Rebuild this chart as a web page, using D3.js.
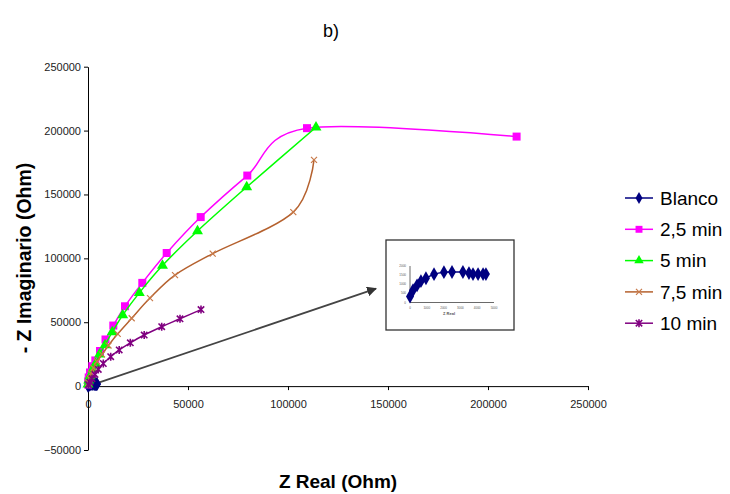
<!DOCTYPE html>
<html>
<head>
<meta charset="utf-8">
<script src="https://cdn.jsdelivr.net/npm/d3@7"></script>
<style>
  body { margin: 0; background: #fff; }
  svg { font-family: "Liberation Sans", Arial, sans-serif; }
</style>
</head>
<body>
<svg width="730" height="494"></svg>
<script>
// series data, [Z real, -Z imag] in Ohm
const blanco = [[0, 330], [180, 670], [420, 940], [650, 1170], [950, 1330], [1430, 1550], [2020, 1660],
  [2500, 1670], [3150, 1670], [3510, 1610], [3750, 1560], [4050, 1560], [4350, 1560], [4520, 1560]];
const min25 = [[0, 1300], [100, 3700], [350, 6800], [1000, 10700], [2150, 15600], [3650, 20100], [6000, 27500],
  [8750, 36500], [12650, 47400], [18500, 62500], [27150, 80800], [39350, 104200], [56350, 132300],
  [79650, 164800], [109500, 201900], [214300, 195300]];
const min5 = [[0, 1300], [350, 4450], [1000, 7800], [2350, 13050], [3750, 17500], [5750, 24800], [8500, 32200],
  [12100, 42200], [17350, 55600], [25650, 73000], [37250, 94400], [54750, 121400], [79350, 155800],
  [114000, 202600]];
const min75 = [[150, 2500], [750, 6000], [1500, 9900], [2750, 14200], [4500, 19300], [7000, 24800], [10250, 31800],
  [14850, 40900], [21850, 53100], [31000, 68900], [43500, 86900], [62350, 103700], [102650, 136200],
  [113000, 177100]];
const min10 = [[250, 1170], [1000, 3100], [2000, 5800], [3500, 9100], [5150, 13050], [7650, 17700], [11350, 23000],
  [15600, 28300], [21150, 33900], [28100, 40000], [36850, 46500], [46000, 52700], [56500, 59900]];

const seriesNames = ["Blanco", "2,5 min", "5 min", "7,5 min", "10 min"];
const seriesData = [blanco, min25, min5, min75, min10];
const lineColors = ["#000080", "#ff00ff", "#00ff00", "#b5612e", "#800080"];
const markColors = ["#000080", "#ff00ff", "#00ff00", "#c87a4a", "#800080"];
const markTypes = ["diamond", "square", "triangle", "x", "star"];

const xTicks = [0, 50000, 100000, 150000, 200000, 250000];
const yTicks = [-50000, 0, 50000, 100000, 150000, 200000, 250000];

// inset (zoom on Blanco)
const insetXTicks = [0, 1000, 2000, 3000, 4000, 5000];
const insetYTicks = [0, 500, 1000, 1500, 2000];

// arrow annotation, data units: from Blanco to inset
const arrowFrom = [2000, 900];
const arrowTo = [144000, 76300];

const svg = d3.select("svg");

const x = d3.scaleLinear().domain([0, 250000]).range([88, 588]);
const y = d3.scaleLinear().domain([-50000, 250000]).range([450, 66.7]);

// title
svg.append("text")
  .attr("x", 331).attr("y", 37)
  .attr("text-anchor", "middle")
  .style("font-size", "18px")
  .text("b)");

// axes
const xAxis = svg.append("g")
  .attr("transform", `translate(0, ${y(0)})`)
  .call(d3.axisBottom(x).tickValues(xTicks).tickSize(4).tickSizeOuter(0).tickFormat(d3.format("d")));
xAxis.select(".domain").attr("stroke", "#000");
xAxis.selectAll("text").attr("y", 14).style("font-size", "11px").attr("fill", "#222")
  .style("font-family", "Liberation Sans, Arial");

const yAxis = svg.append("g")
  .attr("transform", `translate(${x(0)}, 0)`)
  .call(d3.axisLeft(y).tickValues(yTicks).tickSize(4).tickSizeOuter(0).tickFormat(d3.format("d")));
yAxis.select(".domain").attr("stroke", "#000");
yAxis.selectAll("text").attr("x", -7).style("font-size", "11px").attr("fill", "#222")
  .style("font-family", "Liberation Sans, Arial");

// axis titles
svg.append("text")
  .attr("x", 338).attr("y", 488)
  .attr("text-anchor", "middle")
  .style("font-size", "19px").style("font-weight", "bold")
  .text("Z Real (Ohm)");

svg.append("text")
  .attr("transform", "translate(31, 258) rotate(-90)")
  .attr("text-anchor", "middle")
  .style("font-size", "19.5px").style("font-weight", "bold")
  .text("- Z Imaginario (Ohm)");

// arrow
svg.append("defs").append("marker")
  .attr("id", "arrowhead")
  .attr("viewBox", "0 0 10 10")
  .attr("refX", 9).attr("refY", 5)
  .attr("markerWidth", 5.5).attr("markerHeight", 5.5)
  .attr("orient", "auto")
  .append("path")
  .attr("d", "M0,0 L10,5 L0,10 z")
  .attr("fill", "#333");

svg.append("line")
  .attr("x1", x(arrowFrom[0])).attr("y1", y(arrowFrom[1]))
  .attr("x2", x(arrowTo[0])).attr("y2", y(arrowTo[1]))
  .attr("stroke", "#444").attr("stroke-width", 1.8)
  .attr("marker-end", "url(#arrowhead)");

function drawMarker(g, type, color, s) {
  if (type === "diamond") {
    g.append("path").attr("d", d3.symbol(d3.symbolDiamond, s * 7)()).attr("fill", color);
  } else if (type === "square") {
    g.append("path").attr("d", d3.symbol(d3.symbolSquare, s * 8)()).attr("fill", color);
  } else if (type === "triangle") {
    g.append("path").attr("d", d3.symbol(d3.symbolTriangle, s * 6.5)()).attr("fill", color);
  } else if (type === "x") {
    const r = 3;
    g.append("path").attr("d", `M${-r},${-r}L${r},${r}M${-r},${r}L${r},${-r}`)
      .attr("stroke", color).attr("stroke-width", 1.2).attr("fill", "none");
  } else {
    const r = 3.2;
    g.append("path").attr("d", `M${-r},${-r}L${r},${r}M${-r},${r}L${r},${-r}M0,${-r - 0.8}L0,${r + 0.8}`)
      .attr("stroke", color).attr("stroke-width", 1.6).attr("fill", "none");
  }
}

const line = d3.line()
  .x(d => x(d[0]))
  .y(d => y(d[1]))
  .curve(d3.curveCatmullRom.alpha(0));

seriesData.forEach((data, i) => {
  const g = svg.append("g");
  g.append("path")
    .datum(data)
    .attr("d", line)
    .attr("fill", "none")
    .attr("stroke", lineColors[i])
    .attr("stroke-width", 1.5);
  g.selectAll("g.pt").data(data).enter().append("g")
    .attr("class", "pt")
    .attr("transform", d => `translate(${x(d[0])}, ${y(d[1])})`)
    .each(function () { drawMarker(d3.select(this), markTypes[i], markColors[i], 8); });
});

// inset
const inset = svg.append("g");
inset.append("rect")
  .attr("x", 386).attr("y", 240).attr("width", 128).attr("height", 90)
  .attr("fill", "#fff").attr("stroke", "#333").attr("stroke-width", 1.3);

const ix = d3.scaleLinear().domain([0, 5000]).range([410, 494]);
const iy = d3.scaleLinear().domain([0, 2000]).range([302.5, 266]);

inset.append("line").attr("x1", ix(0)).attr("x2", ix(0)).attr("y1", iy(0)).attr("y2", iy(2000))
  .attr("stroke", "#444").attr("stroke-width", 0.8);
inset.append("line").attr("x1", ix(0)).attr("x2", ix(5000)).attr("y1", iy(0)).attr("y2", iy(0))
  .attr("stroke", "#444").attr("stroke-width", 0.8);
inset.selectAll(".ixt").data(insetXTicks).enter().append("text")
  .attr("x", d => ix(d)).attr("y", iy(0) + 6)
  .attr("text-anchor", "middle").style("font-size", "3px").attr("fill", "#555")
  .text(d => d);
inset.selectAll(".iyt").data(insetYTicks).enter().append("text")
  .attr("x", ix(0) - 4).attr("y", d => iy(d) + 1)
  .attr("text-anchor", "end").style("font-size", "3px").attr("fill", "#555")
  .text(d => d);
inset.append("text")
  .attr("x", 449).attr("y", 315)
  .attr("text-anchor", "middle").style("font-size", "4px").style("font-weight", "bold").attr("fill", "#555")
  .text("Z Real");

inset.append("path")
  .datum(blanco)
  .attr("d", d3.line().x(d => ix(d[0])).y(d => iy(d[1])).curve(d3.curveCatmullRom.alpha(0)))
  .attr("fill", "none").attr("stroke", "#000080").attr("stroke-width", 1.5);
inset.selectAll("path.idm").data(blanco).enter().append("path")
  .attr("class", "idm")
  .attr("transform", d => `translate(${ix(d[0])}, ${iy(d[1])})`)
  .attr("d", d3.symbol(d3.symbolDiamond, 55)())
  .attr("fill", "#000080");

// legend
const legend = svg.append("g").attr("transform", "translate(625, 198)");
const items = legend.selectAll("g").data(seriesNames).enter().append("g")
  .attr("transform", (d, i) => `translate(0, ${i * 31.3})`);
items.append("line")
  .attr("x1", 0).attr("x2", 28).attr("y1", 0).attr("y2", 0)
  .attr("stroke", (d, i) => lineColors[i]).attr("stroke-width", 1.5);
items.append("g")
  .attr("transform", "translate(14, 0)")
  .each(function (d, i) { drawMarker(d3.select(this), markTypes[i], markColors[i], 6); });
items.append("text")
  .attr("x", 35).attr("y", 6.8)
  .style("font-size", "19px")
  .text(d => d);
</script>
</body>
</html>
